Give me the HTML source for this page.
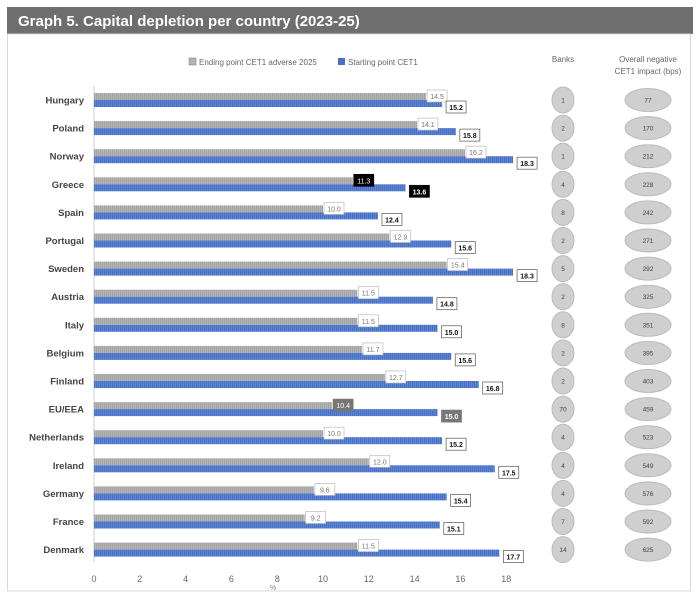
<!DOCTYPE html>
<html><head><meta charset="utf-8"><style>
body{margin:0;background:#fff;width:700px;height:602px;overflow:hidden;font-family:"Liberation Sans",sans-serif}
</style></head><body>
<svg id="s" width="700" height="602" xmlns="http://www.w3.org/2000/svg" font-family="Liberation Sans, sans-serif">
<defs>
<pattern id="pg" width="2" height="8" patternUnits="userSpaceOnUse"><rect width="2" height="8" fill="#b4b4b4"/><rect width="1" height="8" fill="#a4a4a4"/></pattern>
<pattern id="pb" width="2" height="8" patternUnits="userSpaceOnUse"><rect width="2" height="8" fill="#5b84d4"/><rect width="1" height="8" fill="#4a72c4"/></pattern>
</defs>
<rect x="7" y="7" width="686" height="27" fill="#6e6e6e"/>
<text x="18" y="26" fill="#fff" font-size="15" font-weight="bold">Graph 5.  Capital depletion per country (2023-25)</text>
<rect x="7.5" y="34" width="683" height="557" fill="none" stroke="#d8d8d8"/>
<rect x="189" y="58" width="7" height="7" fill="#b4b4b4" stroke="#777" stroke-width="0.5"/>
<text x="199" y="65" font-size="8" fill="#666">Ending point CET1 adverse 2025</text>
<rect x="338" y="58" width="7" height="7" fill="#4a72c4"/>
<text x="348" y="65" font-size="8" fill="#666">Starting point CET1</text>
<text x="563" y="62" font-size="8" fill="#666" text-anchor="middle">Banks</text>
<text x="648" y="62" font-size="8" fill="#666" text-anchor="middle">Overall negative</text>
<text x="648" y="74" font-size="8" fill="#666" text-anchor="middle">CET1 impact (bps)</text>
<line x1="94" y1="86" x2="94" y2="562" stroke="#cfcfcf"/>
<g id="g"></g>
</svg>
<script>
var d=[["Hungary",14.5,15.2,1,77],["Poland",14.1,15.8,2,170],["Norway",16.2,18.3,1,212],["Greece",11.3,13.6,4,228],["Spain",10.0,12.4,8,242],["Portugal",12.9,15.6,2,271],["Sweden",15.4,18.3,5,292],["Austria",11.5,14.8,2,325],["Italy",11.5,15.0,8,351],["Belgium",11.7,15.6,2,395],["Finland",12.7,16.8,2,403],["EU/EEA",10.4,15.0,70,459],["Netherlands",10.0,15.2,4,523],["Ireland",12.0,17.5,4,549],["Germany",9.6,15.4,4,576],["France",9.2,15.1,7,592],["Denmark",11.5,17.7,14,625]];
var h='',x0=94,k=22.9;
d.forEach(function(r,i){
var y=100+i*28.1;
h+='<text x="84" y="'+(y+3.5)+'" font-size="9.5" font-weight="bold" fill="#444" text-anchor="end">'+r[0]+'</text>';
var g=x0+r[1]*k,b=x0+r[2]*k;
h+='<rect x="'+x0+'" y="'+(y-7)+'" width="'+(g-x0)+'" height="7" fill="url(#pg)"/>';
h+='<rect x="'+x0+'" y="'+y+'" width="'+(b-x0)+'" height="7" fill="url(#pb)"/>';
var gb='#fff',gt='#777',gs='#bbb',bb='#fff',bt='#111',bs='#555';
if(r[0]=="Greece"){gb=bb='#000';gt=bt='#fff';gs=bs='#000';}
if(r[0]=="EU/EEA"){gb=bb='#777';gt=bt='#fff';gs=bs='#777';}
h+='<rect x="'+(g+1)+'" y="'+(y-10)+'" width="20" height="12" fill="'+gb+'" stroke="'+gs+'" stroke-width="0.7"/>';
h+='<text x="'+(g+11)+'" y="'+(y-1)+'" font-size="7" fill="'+gt+'" text-anchor="middle">'+r[1].toFixed(1)+'</text>';
h+='<rect x="'+(b+4)+'" y="'+(y+1)+'" width="20" height="12" fill="'+bb+'" stroke="'+bs+'" stroke-width="0.7"/>';
h+='<text x="'+(b+14)+'" y="'+(y+10)+'" font-size="7" font-weight="bold" fill="'+bt+'" text-anchor="middle">'+r[2].toFixed(1)+'</text>';
h+='<ellipse cx="563" cy="'+y+'" rx="11" ry="13" fill="#cfcfcf" stroke="#bbb"/>';
h+='<text x="563" y="'+(y+2.5)+'" font-size="6.5" fill="#345" text-anchor="middle">'+r[3]+'</text>';
h+='<ellipse cx="648" cy="'+y+'" rx="23" ry="11.5" fill="#cfcfcf" stroke="#bbb"/>';
h+='<text x="648" y="'+(y+2.5)+'" font-size="6.5" fill="#345" text-anchor="middle">'+r[4]+'</text>';
});
for(var t=0;t<=18;t+=2){h+='<text x="'+(x0+t*k)+'" y="582" font-size="9" fill="#666" text-anchor="middle">'+t+'</text>';}
h+='<text x="270" y="590" font-size="7" fill="#888">%</text>';
document.getElementById('g').innerHTML=h;
</script>
</body></html>
